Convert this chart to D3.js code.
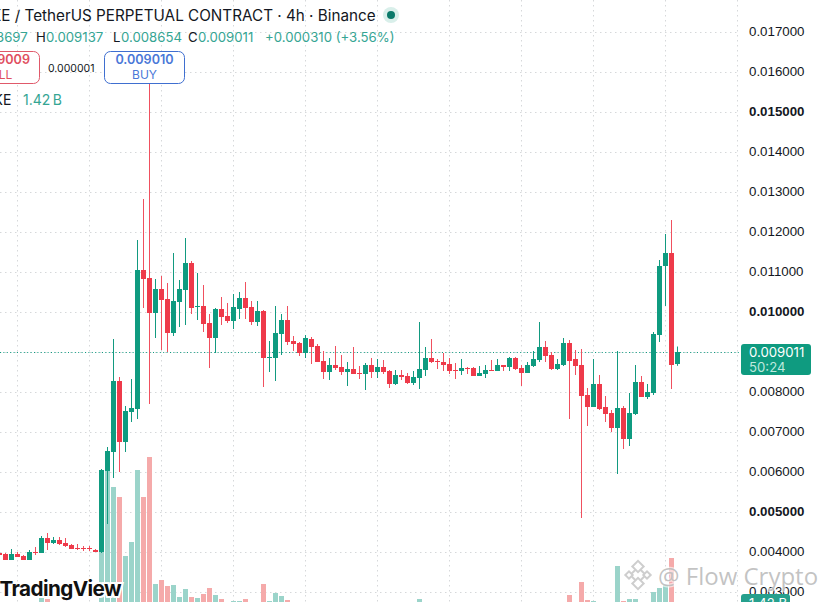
<!DOCTYPE html>
<html>
<head>
<meta charset="utf-8">
<script src="https://cdn.jsdelivr.net/npm/d3@7"></script>
<style>
  html, body { margin: 0; padding: 0; background: #fff; overflow: hidden; }
  svg { display: block; font-family: Inter, "Noto Sans", sans-serif; }
  .tick text { font-size: 13.3px; fill: #131722; }
</style>
</head>
<body>
<svg id="chart" width="824" height="602"></svg>
<script>
// prices are in millionths of a USDT
const opens = [3975,3950,3800,3950,3900,3800,4000,3975,4350,4225,4300,4225,4175,4100,4100,4100,4050,4000,6025,6500,
  8275,6750,7500,7575,11050,10850,9975,10575,10325,9475,10250,10550,11225,10125,10150,9725,9350,10075,9900,9775,
  10075,10350,10125,9750,10025,8850,8850,9450,9800,9275,9225,8975,9325,9150,8775,8500,8675,8625,8500,8575,
  8475,8450,8675,8500,8625,8525,8200,8425,8400,8225,8350,8550,8850,8775,8750,8700,8550,8525,8600,8600,
  8400,8450,8550,8525,8675,8625,8850,8600,8475,8650,8800,9125,8925,8575,8675,9225,8825,8675,7925,7625,
  8200,7625,7475,7100,7600,6825,7450,8250,7875,7975,9425,11150,11475,8697];
const highs = [4000,3975,4075,4000,3925,4050,4125,4400,4475,4375,4375,4350,4200,4200,4150,4150,4075,6075,6625,9325,
  8375,7650,8325,11800,12825,15700,10825,10900,10725,11475,10800,11850,11275,10975,10675,9950,10100,10375,10225,10450,
  10500,10750,10275,10275,10050,9275,10150,9950,10150,9400,9250,9425,9375,9200,9025,8850,9150,8925,8750,9125,
  8650,8725,8850,8825,8800,8550,8550,8550,8475,8525,9750,9125,9325,8825,8975,8850,8725,8825,8625,8625,
  8650,8675,8800,8825,8675,8875,8875,8675,8750,9025,9750,9275,9000,8825,9350,9300,9050,9075,8100,8825,
  8425,7900,7550,9025,7650,7975,8675,8400,8200,9500,11300,11950,12300,9137];
const lows = [3900,3800,3800,3875,3800,3800,3925,3975,4050,4200,4175,4125,4075,4050,4025,4025,4000,3975,4700,5850,
  6000,6500,7250,7325,10100,7700,9350,9050,9000,9400,9625,9675,9950,9800,9500,8600,8975,9675,9725,9575,
  9825,9825,9675,9650,8125,8500,8275,8925,9175,9025,8900,8850,8700,8750,8325,8300,8550,8425,8150,8450,
  8325,8050,8350,8350,8450,8100,8175,8300,8200,8175,8075,8400,8725,8575,8525,8450,8325,8425,8450,8400,
  8400,8350,8525,8525,8525,8525,8550,8150,8475,8625,8750,8750,8550,8550,8650,7325,8425,4850,7150,7625,
  7550,7250,7000,5950,6575,6650,7425,7875,7825,7925,9250,10150,8075,8654];
const closes = [3925,3800,3950,3875,3800,4000,3975,4350,4225,4300,4200,4150,4075,4075,4075,4075,4000,6050,6525,8275,
  6750,7525,7600,11050,10825,9975,10575,10300,9475,10275,10575,11225,10100,10150,9700,9350,10075,9875,9775,10125,
  10350,10100,9750,10025,8850,8875,9475,9800,9250,9200,8975,9350,9125,8750,8500,8675,8600,8500,8575,8450,
  8450,8675,8500,8625,8500,8200,8425,8375,8225,8375,8575,8850,8750,8750,8675,8525,8525,8600,8575,8400,
  8475,8550,8525,8675,8625,8850,8575,8475,8675,8825,9125,8900,8575,8700,9225,8775,8650,7900,7625,8200,
  7575,7450,7100,7600,6825,7475,8250,7875,8000,9450,11150,11475,8675,9011];
// volume in billions, bars whose top falls below the crop are estimates
const volumes = [0.5,0.6,0.6,0.5,0.6,0.9,0.7,2.04,1.92,0.9,0.8,0.7,0.6,0.5,0.4,0.4,0.5,8.4,17.4,15.36,
  14.16,7.08,8.76,17.4,14.16,18.96,3.72,4.2,3.48,3.6,2.16,3.12,2.16,2.04,2.52,3.24,2.4,1.92,1.2,1.68,
  1.68,1.92,1.1,1.0,3.72,1.68,2.64,2.28,1.8,1.2,1.0,1.1,0.9,0.9,1.0,0.8,0.7,0.6,0.8,0.7,
  0.5,0.9,0.7,0.6,0.5,0.8,0.7,0.4,0.5,0.5,1.92,1.1,0.8,0.4,0.5,0.6,0.4,0.4,0.3,0.4,
  0.3,0.4,0.3,0.4,0.3,0.6,0.6,0.7,0.6,0.7,1.3,0.9,0.8,0.5,1.2,2.4,1.0,3.96,1.8,1.68,
  1.2,0.9,0.8,5.88,1.68,1.92,1.92,1.1,0.7,2.76,3.24,3.6,6.84,1.42];
const priceTicks = [17000,16000,15000,14000,13000,12000,11000,10000,9000,8000,7000,6000,5000,4000,3000];
const boldTicks = [15000,10000,5000];
const axisTicks = priceTicks.filter((d) => d !== 9000);
const gridIndex = [3,15,27,39,51,63,75,87,99,111,123];

const up = "#0f9b80", down = "#ee3a4a";
const upWick = "#129a80", downWick = "#f0505f";
const upVol = "#9bd4ca", downVol = "#f5aaaa";
const ink = "#131722", teal = "#35a593";

const svg = d3.select("#chart");
const x = d3.scaleLinear().domain([0, 113]).range([-0.5, 677.5]);
const y = d3.scaleLinear().domain([3000, 17000]).range([592, 32]);
const yVol = d3.scaleLinear().domain([0, 18.96]).range([615, 457]);
const candles = d3.range(opens.length);

// grid
const grid = svg.append("g").attr("stroke", "#d6d8da").attr("stroke-dasharray", "1.5,3.5");
grid.selectAll(".h").data(priceTicks).join("line").attr("class", "h")
  .attr("x1", 0).attr("x2", 737).attr("y1", (d) => y(d) + 0.5).attr("y2", (d) => y(d) + 0.5);
grid.selectAll(".v").data(gridIndex).join("line").attr("class", "v")
  .attr("x1", (d) => x(d)).attr("x2", (d) => x(d)).attr("y1", 0).attr("y2", 602);

// volume
svg.append("g").selectAll("rect").data(candles).join("rect")
  .attr("x", (i) => x(i) - 2.5).attr("width", 5)
  .attr("y", (i) => Math.round(yVol(volumes[i])))
  .attr("height", (i) => 615 - Math.round(yVol(volumes[i])))
  .attr("fill", (i) => closes[i] >= opens[i] ? upVol : downVol);

// last price line
const lastY = Math.round(y(closes[113])) + 0.5;
svg.append("line").attr("x1", 0).attr("x2", 741).attr("y1", lastY).attr("y2", lastY)
  .attr("stroke", up).attr("stroke-dasharray", "1,2.4");

// candles
svg.append("g").selectAll("line").data(candles).join("line")
  .attr("x1", (i) => x(i)).attr("x2", (i) => x(i))
  .attr("y1", (i) => y(highs[i])).attr("y2", (i) => y(lows[i]))
  .attr("stroke", (i) => closes[i] >= opens[i] ? upWick : downWick);
svg.append("g").selectAll("rect").data(candles).join("rect")
  .attr("x", (i) => x(i) - 2.5).attr("width", 5)
  .attr("y", (i) => Math.round(y(Math.max(opens[i], closes[i]))))
  .attr("height", (i) => Math.max(1, Math.round(y(Math.min(opens[i], closes[i]))) - Math.round(y(Math.max(opens[i], closes[i])))))
  .attr("fill", (i) => closes[i] >= opens[i] ? up : down);

// price axis
const axis = svg.append("g").attr("transform", "translate(749,-1)")
  .call(d3.axisRight(y).tickValues(axisTicks).tickSize(0).tickPadding(0).tickFormat((d) => (d / 1e6).toFixed(6)));
axis.select(".domain").remove();
axis.selectAll(".tick text").attr("font-weight", (d) => boldTicks.includes(d) ? 700 : 400);

// last price tag
svg.append("rect").attr("x", 741).attr("y", 344).attr("width", 70).attr("height", 31).attr("rx", 3).attr("fill", up);
svg.append("text").attr("x", 749).attr("y", 357).attr("font-size", 13.2).attr("fill", "#fff").text("0.009011");
svg.append("text").attr("x", 749).attr("y", 372).attr("font-size", 13.2).attr("fill", "#bfe8de").text("50:24");
svg.append("rect").attr("x", 741).attr("y", 594).attr("width", 49).attr("height", 18).attr("rx", 3).attr("fill", "#26a08d");
svg.append("text").attr("x", 749).attr("y", 608).attr("font-size", 13.2).attr("fill", "#fff").text("1.42 B");

// title and legend
svg.append("text").attr("x", -9).attr("y", 20.5).attr("font-size", 15.25).attr("fill", ink)
  .text("KE / TetherUS PERPETUAL CONTRACT · 4h · Binance");
svg.append("circle").attr("cx", 391).attr("cy", 15).attr("r", 8).attr("fill", "#d9efea");
svg.append("circle").attr("cx", 391).attr("cy", 15).attr("r", 4).attr("fill", "#0b7a6a");

const ohlc = svg.append("g").attr("font-size", 13.2);
[["3697", -4, teal], ["H", 36, ink], ["0.009137", 46, teal], ["L", 113, ink], ["0.008654", 121, teal],
 ["C", 188, ink], ["0.009011", 198, teal], ["+0.000310 (+3.56%)", 265, teal]].forEach((d) => {
  ohlc.append("text").attr("x", d[1]).attr("y", 42).attr("fill", d[2]).text(d[0]);
});

// trade buttons
svg.append("rect").attr("x", -41.5).attr("y", 51.5).attr("width", 81).attr("height", 32).attr("rx", 6)
  .attr("fill", "#fff").attr("stroke", "#e0596a");
svg.append("text").attr("x", -0.5).attr("y", 64).attr("text-anchor", "middle").attr("font-size", 12.6)
  .attr("font-weight", 600).attr("fill", "#e0505f").text("0.009009");
svg.append("text").attr("x", -2).attr("y", 78.5).attr("text-anchor", "middle").attr("font-size", 12)
  .attr("fill", "#e0505f").text("SELL");
svg.append("text").attr("x", 48).attr("y", 71.5).attr("font-size", 10.5).attr("fill", ink).text("0.000001");
svg.append("rect").attr("x", 104.5).attr("y", 51.5).attr("width", 80).attr("height", 32).attr("rx", 6)
  .attr("fill", "#fff").attr("stroke", "#3f6fd0");
svg.append("text").attr("x", 144.5).attr("y", 64).attr("text-anchor", "middle").attr("font-size", 12.6)
  .attr("font-weight", 600).attr("fill", "#4a78d8").text("0.009010");
svg.append("text").attr("x", 144.5).attr("y", 78.5).attr("text-anchor", "middle").attr("font-size", 12)
  .attr("fill", "#4a78d8").text("BUY");

svg.append("text").attr("x", -6.5).attr("y", 105).attr("font-size", 14).attr("fill", ink).text("KE");
svg.append("text").attr("x", 23).attr("y", 105).attr("font-size", 14).attr("fill", teal).text("1.42\u2009B");

// TradingView mark
svg.append("text").attr("x", -0.5).attr("y", 596).attr("font-size", 20.7).attr("font-weight", 700)
  .attr("letter-spacing", -0.6).attr("fill", "#111").attr("stroke", "#fff").attr("stroke-width", 4)
  .attr("paint-order", "stroke").text("TradingView");

// watermark
const mark = svg.append("g").attr("fill", "none").attr("stroke", "#c6c6c6").attr("stroke-width", 2).attr("opacity", 0.85);
[[638, 575, 5.5], [638, 566.5, 4], [638, 583.5, 4], [629, 575, 2.6], [647, 575, 2.6]].forEach((d) => {
  mark.append("rect").attr("x", d[0] - d[2]).attr("y", d[1] - d[2]).attr("width", d[2] * 2).attr("height", d[2] * 2)
    .attr("transform", `rotate(45,${d[0]},${d[1]})`).attr("fill", "#fff");
});
svg.append("text").attr("x", 658).attr("y", 585).attr("font-size", 24).attr("font-family", "'Open Sans'")
  .attr("fill", "#b9b9b9").attr("fill-opacity", 0.85).attr("stroke", "#fff").attr("stroke-width", 2.5)
  .attr("stroke-opacity", 0.6).attr("paint-order", "stroke").text("@ Flow Crypto");
</script>
</body>
</html>
